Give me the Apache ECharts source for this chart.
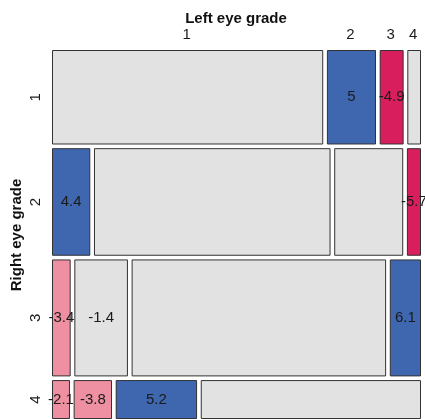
<!DOCTYPE html>
<html><head><meta charset="utf-8">
<script src="https://cdn.jsdelivr.net/npm/echarts@6/dist/echarts.min.js"></script>
<style>html,body{margin:0;padding:0;background:#fff}#c{width:425px;height:419px}</style>
</head><body><div id="c"></div>
<script>
var rowLabels = ['1','2','3','4'];
var colLabels = ['1','2','3','4'];
// counts: rows = right eye grade, cols = left eye grade
var row1 = [1520, 266, 124, 66];
var row2 = [234, 1512, 432, 78];
var row3 = [117, 362, 1772, 205];
var row4 = [36, 82, 179, 492];
// residual labels shown in cells (null = no label)
var res1 = [null, 5, -4.9, null];
var res2 = [4.4, null, null, -5.7];
var res3 = [-3.4, -1.4, null, 6.1];
var res4 = [-2.1, -3.8, 5.2, null];

var counts = [row1, row2, row3, row4];
var resid = [res1, res2, res3, res4];
var G = 0.0162;
var total = 0, rowTot = counts.map(function(r){var s=r.reduce(function(a,b){return a+b;},0); total+=s; return s;});
var cells = [];
var yy = 0;
for (var i=0;i<4;i++){
  var h = rowTot[i]/total;
  var xx = 0;
  for (var j=0;j<4;j++){
    var w = counts[i][j]/rowTot[i];
    cells.push([xx, xx+w, yy, yy+h, resid[i][j], i, j]);
    xx += w + G;
  }
  yy += h + G;
}
function shade(r){
  if (r===null) return '#E2E2E2';
  if (r>4) return '#3E67B0';
  if (r>2) return '#8FA8D8';
  if (r<-4) return '#D91E5E';
  if (r<-2) return '#EE90A1';
  return '#E2E2E2';
}
var topRow = cells.filter(function(c){return c[5]===0;});
var rowCenters = [];
for (var i=0;i<4;i++){ var c=cells[i*4]; rowCenters.push([(c[2]+c[3])/2, rowLabels[i]]); }
var colCenters = topRow.map(function(c){return [(c[0]+c[1])/2, colLabels[c[6]]];});
var M = 1+3*G;
var FONT = '"Liberation Sans", Arial, sans-serif';
var chart = echarts.init(document.getElementById('c'));
chart.setOption({
  animation:false,
  grid:{left:53,top:51,width:367,height:367},
  xAxis:{type:'value',min:0,max:M,show:false},
  yAxis:{type:'value',min:0,max:M,inverse:true,show:false},
  title:{text:'Left eye grade',left:231,top:6,textAlign:'center',textStyle:{fontFamily:FONT,fontSize:15,fontWeight:'bold',color:'#111'}},
  graphic:[{type:'text',x:17,y:235,rotation:Math.PI/2,style:{text:'Right eye grade',font:'bold 15px '+FONT,fill:'#111',textAlign:'center',textVerticalAlign:'middle'}}],
  series:[
    {type:'custom',data:cells,encode:{x:[0,1],y:[2,3]},clip:false,
     renderItem:function(p,api){
       var a=api.coord([api.value(0),api.value(2)]), b=api.coord([api.value(1),api.value(3)]);
       var r=cells[p.dataIndex][4];
       var ch=[{type:'rect',shape:{x:a[0]-0.5,y:a[1]-0.5,width:b[0]-a[0]+1,height:b[1]-a[1]+1},style:{fill:shade(r),stroke:'#333',lineWidth:1}}];
       if (r!==null) ch.push({type:'text',style:{text:String(r),x:(a[0]+b[0])/2,y:(a[1]+b[1])/2,textAlign:'center',textVerticalAlign:'middle',font:'15px '+FONT,fill:'#1a1a1a'}});
       return {type:'group',children:ch};
     }},
    {type:'custom',data:colCenters,encode:{x:0},clip:false,
     renderItem:function(p,api){
       var a=api.coord([api.value(0),0]);
       return {type:'text',style:{text:colCenters[p.dataIndex][1],x:a[0]-1,y:35,textAlign:'center',textVerticalAlign:'middle',font:'15px '+FONT,fill:'#1a1a1a'}};
     }},
    {type:'custom',data:rowCenters,encode:{y:0},clip:false,
     renderItem:function(p,api){
       var a=api.coord([0,api.value(0)]);
       return {type:'text',x:36,y:a[1],rotation:Math.PI/2,style:{text:rowCenters[p.dataIndex][1],x:0,y:0,textAlign:'center',textVerticalAlign:'middle',font:'15px '+FONT,fill:'#1a1a1a'}};
     }}
  ]
});
</script></body></html>
